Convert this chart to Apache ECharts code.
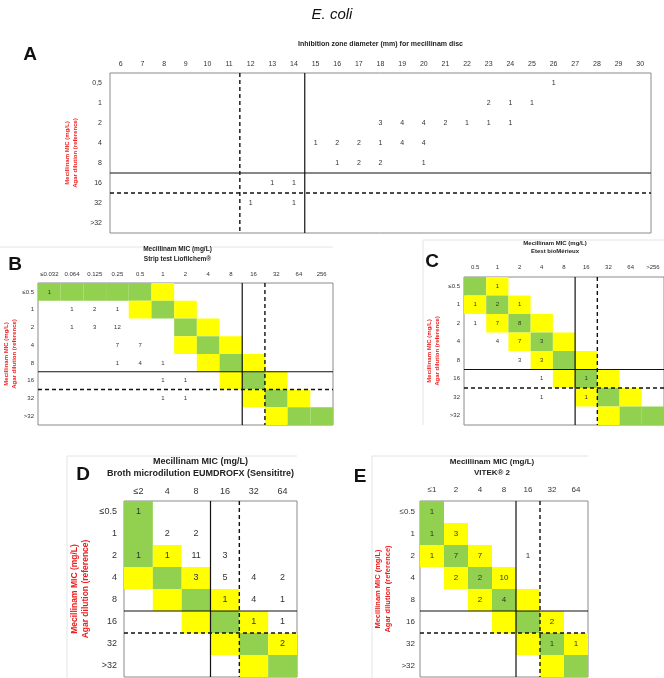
<!DOCTYPE html>
<html>
<head>
<meta charset="utf-8">
<script src="https://cdn.jsdelivr.net/npm/echarts@6/dist/echarts.min.js"></script>
<style>
  html, body { margin: 0; padding: 0; background: #fff; }
  #chart { width: 664px; height: 678px; }
</style>
</head>
<body>
<div id="chart"></div>
<script>
// ---- data ----
// panel A: disc zone diameter vs agar dilution MIC
var aCols = ['6','7','8','9','10','11','12','13','14','15','16','17','18','19','20','21','22','23','24','25','26','27','28','29','30'];
var aRows = ['0,5','1','2','4','8','16','32','>32'];
// [diameter, row index, isolates]
var aCounts = [
  [26,0,1],
  [23,1,2],[24,1,1],[25,1,1],
  [18,2,3],[19,2,4],[20,2,4],[21,2,2],[22,2,1],[23,2,1],[24,2,1],
  [15,3,1],[16,3,2],[17,3,2],[18,3,1],[19,3,4],[20,3,4],
  [16,4,1],[17,4,2],[18,4,2],[20,4,1],
  [13,5,1],[14,5,1],
  [12,6,1],[14,6,1]
];

var micRows = ['≤0.5','1','2','4','8','16','32','>32'];

// panel B: strip test Liofilchem
var bCols = ['≤0.032','0.064','0.125','0.25','0.5','1','2','4','8','16','32','64','256'];
// G = categorical agreement, Y = essential agreement (per row)
var bShade = [
  'GGGGGY.......',
  '....YGY......',
  '......GY.....',
  '......YGY....',
  '.......YGY...',
  '........YGY..',
  '.........YGY.',
  '..........YGG'
];
var bCounts = [
  [0,0,1],
  [1,1,1],[2,1,2],[3,1,1],
  [1,2,1],[2,2,3],[3,2,12],
  [3,3,7],[4,3,7],
  [3,4,1],[4,4,4],[5,4,1],
  [5,5,1],[6,5,1],
  [5,6,1],[6,6,1]
];

// panel C: Etest bioMerieux
var cCols = ['0.5','1','2','4','8','16','32','64','>256'];
var cShade = [
  'GY.......',
  'YGY......',
  '.YGY.....',
  '..YGY....',
  '...YGY...',
  '....YGY..',
  '.....YGY.',
  '......YGG'
];
var cCounts = [
  [1,0,1],
  [0,1,1],[1,1,2],[2,1,1],
  [0,2,1],[1,2,7],[2,2,8],
  [1,3,4],[2,3,7],[3,3,3],
  [2,4,3],[3,4,3],
  [3,5,1],[5,5,1],
  [3,6,1],[5,6,1]
];

// panel D: broth microdilution (Sensititre)
var dCols = ['≤2','4','8','16','32','64'];
var dShade = [
  'G.....',
  'G.....',
  'GY....',
  'YGY...',
  '.YGY..',
  '..YGY.',
  '...YGY',
  '....YG'
];
var dCounts = [
  [0,0,1],
  [1,1,2],[2,1,2],
  [0,2,1],[1,2,1],[2,2,11],[3,2,3],
  [2,3,3],[3,3,5],[4,3,4],[5,3,2],
  [3,4,1],[4,4,4],[5,4,1],
  [4,5,1],[5,5,1],
  [5,6,2]
];

// panel E: VITEK 2
var eCols = ['≤1','2','4','8','16','32','64'];
var eShade = [
  'G......',
  'GY.....',
  'YGY....',
  '.YGY...',
  '..YGY..',
  '...YGY.',
  '....YGY',
  '.....YG'
];
var eCounts = [
  [0,0,1],
  [0,1,1],[1,1,3],
  [0,2,1],[1,2,7],[2,2,7],[4,2,1],
  [1,3,2],[2,3,2],[3,3,10],
  [2,4,2],[3,4,4],
  [5,5,2],
  [5,6,1],[6,6,1]
];

// ---- styling ----
var FONT = '"Liberation Sans", Arial, sans-serif';
var INK = '#333';
var RED = '#ee1c1c';
var SHADE = { G: '#92d050', Y: '#ffff00' };
var yName = 'Mecillinam MIC (mg/L)\nAgar dilution (reference)';

var panels = [
  { cols: aCols, rows: aRows, shade: null,
    counts: aCounts.map(function (d) { return [aCols.indexOf(String(d[0])), d[1], d[2]]; }),
    grid: { left: 110, top: 73, width: 541, height: 160 },
    vSolid: 8, vDash: 5, fs: 7, xm: 5, ym: 8,
    title: 'Inhibition zone diameter (mm) for mecillinam disc', tfs: 7, tlh: 9, tgap: 24, tpad: 0,
    yfs: 6, ylh: 8, ygap: 24 },
  { cols: bCols, rows: micRows, shade: bShade, counts: bCounts,
    grid: { left: 38, top: 283, width: 295, height: 142 },
    vSolid: 8, vDash: 9, fs: 6, xm: 6, ym: 4,
    title: 'Mecillinam MIC (mg/L)\nStrip test Liofilchem®', tfs: 6.5, tlh: 10, tgap: 19, tpad: 16,
    yfs: 6, ylh: 7.5, ygap: 20 },
  { cols: cCols, rows: micRows, shade: cShade, counts: cCounts,
    grid: { left: 464, top: 277, width: 200, height: 148 },
    vSolid: 4, vDash: 5, fs: 6, xm: 7, ym: 4,
    title: 'Mecillinam MIC (mg/L)\nEtest bioMérieux', tfs: 6, tlh: 8.5, tgap: 21, tpad: 18,
    yfs: 6, ylh: 7.5, ygap: 23 },
  { cols: dCols, rows: micRows, shade: dShade, counts: dCounts,
    grid: { left: 124, top: 501, width: 173, height: 176 },
    vSolid: 2, vDash: 3, fs: 9, xm: 5, ym: 7,
    title: 'Mecillinam MIC (mg/L)\nBroth microdilution EUMDROFX (Sensititre)', tfs: 9, tlh: 12, tgap: 21, tpad: 20,
    yfs: 8.5, ylh: 11, ygap: 33 },
  { cols: eCols, rows: micRows, shade: eShade, counts: eCounts,
    grid: { left: 420, top: 501, width: 168, height: 176 },
    vSolid: 3, vDash: 4, fs: 8, xm: 7, ym: 5,
    title: 'Mecillinam MIC (mg/L)\nVITEK® 2', tfs: 8, tlh: 11, tgap: 23, tpad: 24,
    yfs: 7.5, ylh: 10, ygap: 27 }
];

function renderCell(params, api) {
  var p = api.coord([api.value(0), api.value(1)]);
  var s = api.size([1, 1]);
  return {
    type: 'rect',
    shape: { x: p[0] - s[0] / 2, y: p[1] - s[1] / 2, width: s[0], height: s[1] },
    style: { fill: SHADE[api.value(2) === 1 ? 'G' : 'Y'] }
  };
}

function renderCount(fs) {
  return function (params, api) {
    var p = api.coord([api.value(0), api.value(1)]);
    return {
      type: 'text',
      style: { x: p[0], y: p[1], text: String(api.value(2)), align: 'center', verticalAlign: 'middle',
               fontSize: fs, fontFamily: FONT, fill: INK }
    };
  };
}

// breakpoint lines sit on the boundary after a category
function renderLine(params, api) {
  var cs = params.coordSys;
  var s = api.size([1, 1]);
  var vertical = api.value(2) === 0;
  var dashed = api.value(3) === 1;
  var shape;
  if (vertical) {
    var x = api.coord([api.value(0), 0])[0] + s[0] / 2;
    shape = { x1: x, y1: cs.y, x2: x, y2: cs.y + cs.height };
  } else {
    var y = api.coord([0, api.value(1)])[1] + s[1] / 2;
    shape = { x1: cs.x, y1: y, x2: cs.x + cs.width, y2: y };
  }
  return {
    type: 'line', shape: shape,
    style: { stroke: '#111', lineWidth: dashed ? 1.4 : 1.2, lineDash: dashed ? [4, 3] : null }
  };
}

var grid = [], xAxis = [], yAxis = [], series = [];
panels.forEach(function (p, i) {
  grid.push(Object.assign({ show: true, borderColor: '#8a8a8a', borderWidth: 1, backgroundColor: 'transparent' }, p.grid));
  xAxis.push({
    gridIndex: i, type: 'category', data: p.cols, position: 'top',
    axisLine: { show: false }, axisTick: { show: false }, splitLine: { show: false },
    axisLabel: { interval: 0, fontSize: p.fs, color: INK, margin: p.xm, fontFamily: FONT },
    name: p.title, nameLocation: 'middle', nameGap: p.tgap,
    nameTextStyle: { fontSize: p.tfs, fontWeight: 'bold', color: '#222', lineHeight: p.tlh,
                     fontFamily: FONT, padding: [0, p.tpad, 0, 0] }
  });
  yAxis.push({
    gridIndex: i, type: 'category', data: p.rows, inverse: true,
    axisLine: { show: false }, axisTick: { show: false }, splitLine: { show: false },
    axisLabel: { interval: 0, fontSize: p.fs, color: INK, margin: p.ym, fontFamily: FONT },
    name: yName, nameLocation: 'middle', nameRotate: 90, nameGap: p.ygap,
    nameTextStyle: { fontSize: p.yfs, fontWeight: 'bold', color: RED, lineHeight: p.ylh, fontFamily: FONT }
  });

  if (p.shade) {
    var cells = [];
    p.shade.forEach(function (row, r) {
      for (var c = 0; c < row.length; c++) {
        if (row[c] !== '.') cells.push([c, r, row[c] === 'G' ? 1 : 2]);
      }
    });
    series.push({ type: 'custom', xAxisIndex: i, yAxisIndex: i, data: cells,
                  encode: { x: 0, y: 1 }, renderItem: renderCell, silent: true, z: 1 });
  }
  series.push({ type: 'custom', xAxisIndex: i, yAxisIndex: i, data: p.counts,
                encode: { x: 0, y: 1 }, renderItem: renderCount(p.fs), silent: true, z: 3 });
  series.push({ type: 'custom', xAxisIndex: i, yAxisIndex: i,
                data: [[p.vSolid, 0, 0, 0], [p.vDash, 0, 0, 1], [0, 4, 1, 0], [0, 5, 1, 1]],
                encode: { x: 0, y: 1 }, renderItem: renderLine, silent: true, z: 4 });
});

function letter(t, x, y) {
  return { type: 'text', x: x, y: y,
           style: { text: t, font: 'bold 19px ' + FONT, fill: '#111', align: 'center', verticalAlign: 'middle' } };
}
function faint(x1, y1, x2, y2) {
  return { type: 'line', shape: { x1: x1, y1: y1, x2: x2, y2: y2 }, style: { stroke: '#e4e4e4', lineWidth: 1 } };
}

var chart = echarts.init(document.getElementById('chart'), null, { renderer: 'canvas' });
chart.setOption({
  animation: false,
  backgroundColor: '#fff',
  grid: grid,
  xAxis: xAxis,
  yAxis: yAxis,
  series: series,
  graphic: [
    { type: 'text', x: 332, y: 15,
      style: { text: 'E. coli', font: 'italic 15px ' + FONT, fill: '#111', align: 'center', verticalAlign: 'middle' } },
    letter('A', 30, 55), letter('B', 15, 265), letter('C', 432, 262), letter('D', 83, 475), letter('E', 360, 477),
    faint(0, 247, 333, 247),
    faint(423, 240, 664, 240), faint(423, 240, 423, 425),
    faint(67, 456, 297, 456), faint(67, 456, 67, 678),
    faint(372, 456, 588, 456), faint(372, 456, 372, 678)
  ]
});
</script>
</body>
</html>
